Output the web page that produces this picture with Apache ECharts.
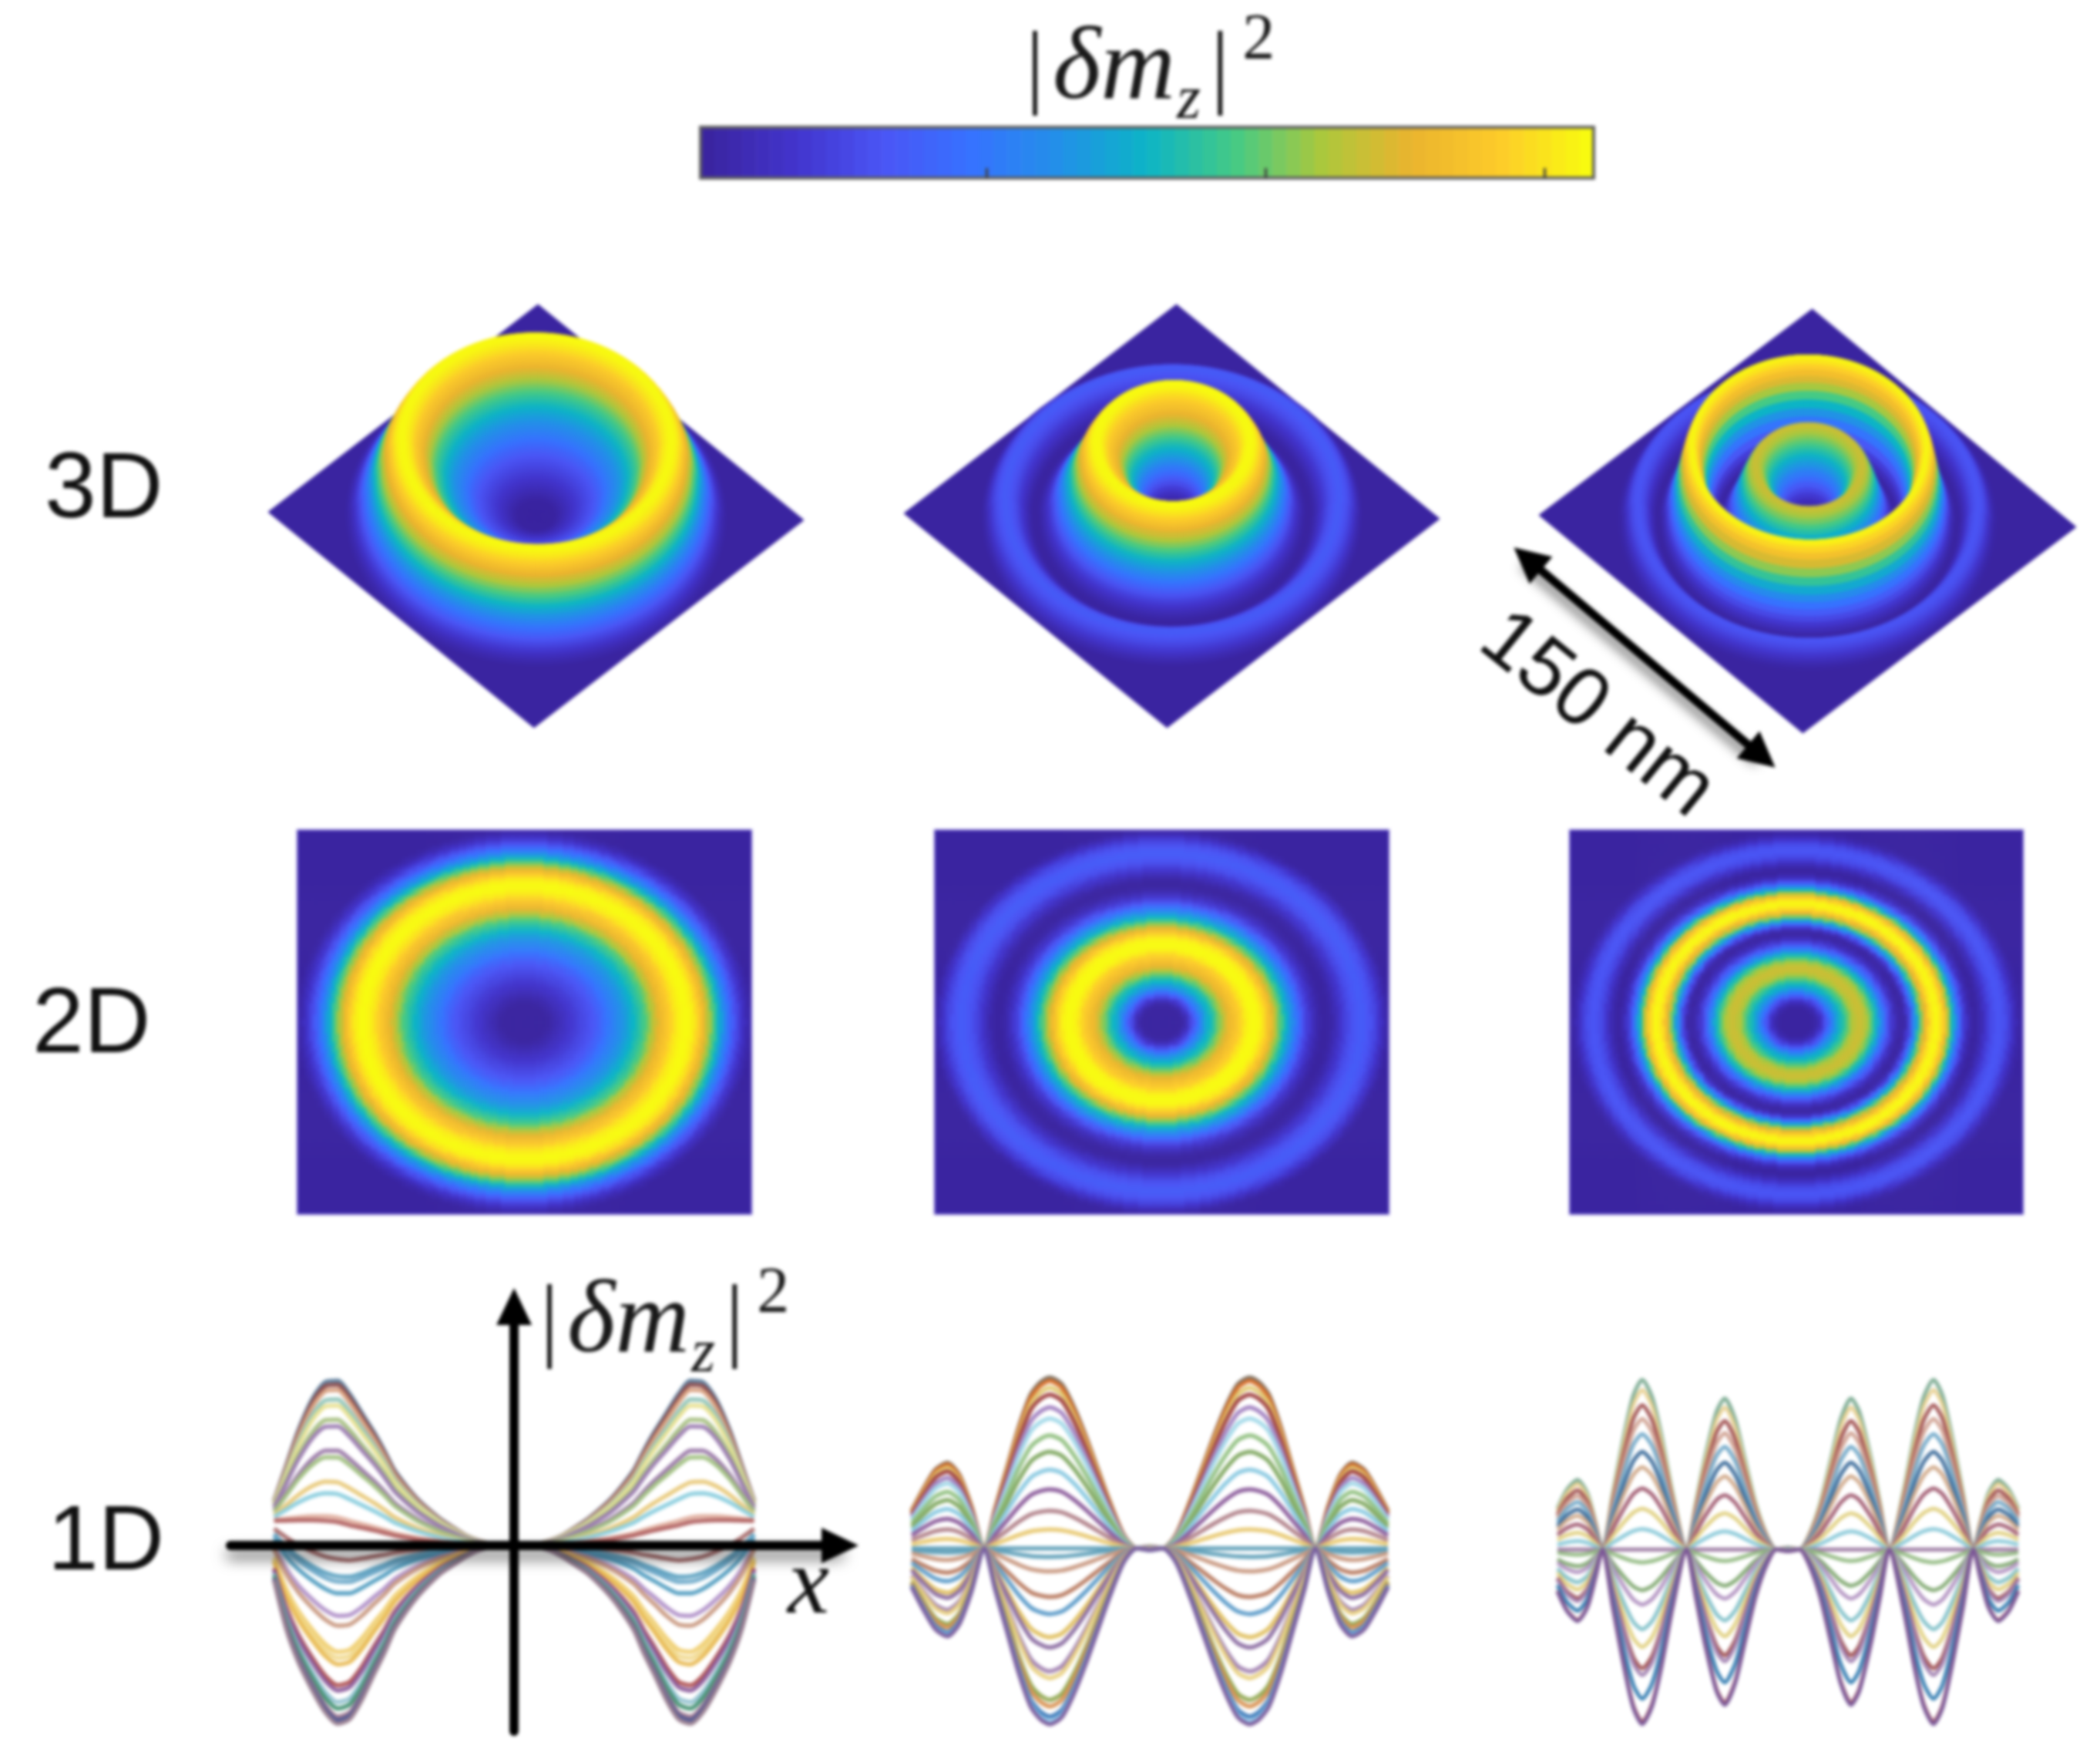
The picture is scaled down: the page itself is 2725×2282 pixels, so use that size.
<!DOCTYPE html>
<html><head><meta charset="utf-8">
<style>html,body{margin:0;padding:0;background:#fff}#main{width:2725px;height:2282px;filter:blur(2px)}</style>
<script src="https://cdn.jsdelivr.net/npm/echarts@6/dist/echarts.min.js"></script>
</head><body><div id="main"></div>
<script>
// ---------- colour scale ----------
const colormap=['#3a24a0','#4234cc','#4a55f5','#3672ff','#2290e8','#0cb4c6','#45ca85','#acc83c','#eab42e','#fdcb2a','#f8fa10'];
const colorbarValues=[0,.016,.032,.048,.063,.079,.095,.111,.127,.143,.159,.175,.19,.206,.222,.238,.254,.27,.286,.302,.317,.333,.349,.365,.381,.397,.413,.429,.444,.46,.476,.492,.508,.524,.54,.556,.571,.587,.603,.619,.635,.651,.667,.683,.698,.714,.73,.746,.762,.778,.794,.81,.825,.841,.857,.873,.889,.905,.921,.937,.952,.968,.984,1];
const colorbarTickIndex=[20,40,60];
// ---------- radial profiles, one value per 0.01 of normalised radius ----------
const radialStep=.01;
const profileA=[0,0,0,0,0,0,0,0,0,0,.005,.01,.02,.03,.04,.05,.06,.07,.08,.09,.1,.11,.12,.13,.14,.15,.16,.17,.18,.19,.2,.215,.23,.245,.26,.28,.3,.315,.33,.345,.36,.375,.39,.405,.42,.44,.46,.48,.5,.52,.54,.56,.58,.605,.63,.665,.7,.73,.76,.79,.82,.84,.86,.88,.9,.925,.95,.965,.98,.99,1,1,1,.99,.98,.955,.93,.895,.86,.82,.78,.73,.68,.63,.58,.53,.48,.43,.38,.34,.3,.26,.22,.185,.15,.12,.09,.065,.04,.025,.01];
const profileB=[0,0,0,0,0,0,0,0,0,.01,.03,.06,.1,.15,.2,.25,.3,.35,.39,.43,.47,.5,.53,.56,.6,.64,.68,.72,.76,.79,.82,.84,.86,.88,.9,.92,.95,.97,.99,1,1,1,1,.99,.97,.94,.91,.87,.83,.79,.73,.68,.63,.58,.53,.49,.45,.41,.37,.33,.29,.25,.21,.17,.14,.11,.08,.06,.04,.02,.01,0,0,0,.01,.02,.04,.06,.08,.1,.12,.14,.16,.18,.19,.2,.21,.22,.22,.22,.21,.2,.19,.17,.15,.13,.1,.07,.05,.02,.01];
const profileC=[0,0,0,0,0,0,0,0,.01,.03,.05,.09,.14,.19,.25,.3,.36,.4,.45,.49,.52,.56,.6,.64,.68,.71,.73,.745,.75,.745,.73,.7,.67,.62,.57,.52,.46,.4,.34,.28,.22,.17,.12,.08,.04,.02,0,.01,.03,.09,.16,.26,.36,.45,.55,.65,.74,.81,.88,.93,.97,.99,1,.98,.95,.89,.82,.72,.62,.52,.42,.34,.26,.19,.13,.08,.04,.02,0,0,.01,.03,.05,.08,.11,.14,.16,.18,.19,.2,.2,.19,.18,.16,.13,.1,.07,.04,.02,.01,0];
// ---------- 1D line shapes (left half, mirrored) ----------
const xsA=[-1,-.95,-.9,-.84,-.785,-.735,-.685,-.635,-.585,-.54,-.5,-.45,-.4,-.35,-.3,-.25,-.2,-.15,-.1,-.05,0];
const shapeAUp=[.27,.48,.69,.886,.987,.994,.914,.8,.686,.57,.457,.36,.276,.21,.152,.105,.06,.03,.01,.002,0];
const shapeADown=[.21,.5,.7,.876,1.01,1.076,1.048,.933,.78,.648,.514,.4,.305,.228,.162,.114,.067,.03,.01,.002,0];
const shapeAEdge=[.13,.1,.07,.04,.02,.01,0,0,0,0,0,0,0,0,0,0,0,0,0,0,0];
const ampsA=[1,.975,.943,.886,.848,.762,.72,.571,.53,.377,.305,.162,.133,-.085,-.18,-.21,-.275,-.4,-.455,-.6,-.635,-.67,-.785,-.815,-.88,-.915,-.96,-.98,-1];
const colorsA=['#5d7d9c','#8a4a4a','#d8a080','#8fc4b8','#e8e090','#a5bf80','#9a7ab0','#9a78a8','#a0c080','#e8c878','#88ccdd','#e0b0a0','#b06060','#a86a6a','#5aa0c0','#6aa8c8','#4f9cc0','#b090c8','#c89880','#f0cf70','#f0d88a','#e8b850','#b05050','#8a5a9a','#90c0d0','#3f8f70','#a07a90','#46508f','#9a8090'];
const xsB=[-1,-.95,-.9,-.85,-.8,-.75,-.695,-.65,-.6,-.55,-.5,-.46,-.42,-.37,-.32,-.27,-.22,-.17,-.11,-.055,0];
const shapeB=[.22,.35,.46,.5,.43,.25,0,.23,.47,.71,.9,.97,1,.96,.83,.66,.47,.28,.08,0,.01];
const ampsB=[1,.98,.94,.9,.825,.76,.66,.565,.46,.345,.22,.11,0,-.05,-.135,-.285,-.385,-.52,-.58,-.72,-.76,-.887,-.925,-.985,-1.015,-1.03];
const colorsB=['#7a6a5a','#d8702a','#e0c870','#a04040','#a080c0','#a0d8e8','#90c080','#80a860','#88c8e0','#8a5a9a','#b08088','#e8c870','#5f9fb8','#5f9fb8','#c89880','#b87a60','#5a9ac8','#e0c060','#8a6aa0','#a080b0','#e8d080','#90a850','#d89050','#3a78b8','#90d0f0','#7a5a9a'];
const xsC=[-1,-.96,-.913,-.87,-.835,-.805,-.76,-.71,-.67,-.632,-.59,-.55,-.5,-.44,-.4,-.36,-.31,-.274,-.23,-.19,-.14,-.09,-.05,0];
const shapeC=[.24,.35,.41,.33,.16,0,.33,.68,.91,1,.9,.68,.33,0,.27,.54,.81,.89,.77,.55,.27,.08,0,.01];
const ampsC=[1,.94,.85,.77,.68,.575,.485,.36,.24,.12,0,-.076,-.24,-.325,-.47,-.575,-.7,-.74,-.88,-1.015,-1.03];
const colorsC=['#7aaa90','#e8d090','#a05050','#d0a090','#70a8c8','#3a6a9a','#d0a888','#a05a70','#e0d080','#88c8d8','#9a78a0','#90b880','#80a870','#b090c0','#80c0c8','#e0d080','#a05050','#a080b0','#2f7ab0','#a05060','#7a5a9a'];
// ---------- annotation ----------
const scaleArrow=[[1982,725],[2286,981]];
const rowLabels=['3D','2D','1D'];
// ---------- layout ----------
const colorbarBox={left:909,top:165,width:1159,height:66};
const surfaceBoxes=[{left:348,top:395,width:695,height:549},{left:1173,top:395,width:695,height:549},{left:1997,top:401,width:697,height:550}];
const surfaceHeights=[.35,.34,.345];
const surfaceTilt=[[.0075,-.019],[.0175,-.0127],[.0175,-.028]];
const mapBoxes=[{left:386,top:1077,width:589,height:498},{left:1213,top:1077,width:589,height:498},{left:2037,top:1077,width:588,height:498}];
const HEAT_COLS=118,HEAT_ROWS=100,THETA_SEGS=96;

const profiles=[profileA,profileB,profileC];
const hide={show:false};
const grid=[],xAxis=[],yAxis=[],series=[];
function addGrid(box,xa,ya){const i=grid.length;grid.push(Object.assign({containLabel:false},box));
  xAxis.push(Object.assign({gridIndex:i,axisLine:hide,axisTick:hide,axisLabel:hide,splitLine:hide},xa));
  yAxis.push(Object.assign({gridIndex:i,axisLine:hide,axisTick:hide,axisLabel:hide,splitLine:hide},ya));return i;}
const seq=n=>Array.from({length:n},(_,i)=>i);

// colour bar
{const g=addGrid(Object.assign({show:true,z:5,backgroundColor:'transparent',borderColor:'#5f5f5f',borderWidth:4},colorbarBox),
  {type:'category',data:seq(colorbarValues.length),z:6,axisTick:{show:true,inside:true,alignWithLabel:true,length:13,interval:i=>colorbarTickIndex.includes(i),lineStyle:{color:'#3d3d3d',width:3}}},
  {type:'category',data:[0]});
 series.push({type:'heatmap',name:'colorbar',xAxisIndex:g,yAxisIndex:g,progressive:0,silent:true,data:colorbarValues.map((v,i)=>[i,0,v])});}
const heatIdx=[0];

// 3D surfaces
const customIdx=[];
profiles.forEach((p,k)=>{
  const g=addGrid(surfaceBoxes[k],{type:'value',min:-1,max:1},{type:'value',min:-1,max:1});
  const h=surfaceHeights[k],q=[],s=surfaceTilt[k][0],t=surfaceTilt[k][1];
  const T=(X,Y)=>[X+s*Y,Y+t*X];
  for(let i=0;i<p.length-1;i++){const r0=i*radialStep,r1=(i+1)*radialStep;
    for(let j=0;j<THETA_SEGS;j++){const a0=j/THETA_SEGS*2*Math.PI,a1=(j+1)/THETA_SEGS*2*Math.PI,c=Math.SQRT1_2;
      const P=(r,a,v)=>T(c*r*Math.cos(a),c*r*Math.sin(a)+h*v);
      q.push({d:c*(r0+r1)/2*Math.sin((a0+a1)/2),
        v:[...P(r0,a0,p[i]),...P(r1,a0,p[i+1]),...P(r1,a1,p[i+1]),...P(r0,a1,p[i]),(p[i]+p[i+1])/2]});}}
  q.sort((a,b)=>b.d-a.d);
  const data=[[...T(-1,0),...T(0,1),...T(1,0),...T(0,-1),0]].concat(q.map(o=>o.v));
  customIdx.push(series.length);
  series.push({type:'custom',name:'surface'+k,xAxisIndex:g,yAxisIndex:g,clip:false,silent:true,progressive:0,encode:{x:0,y:1},data,
    renderItem:(params,api)=>{const pts=[0,2,4,6].map(d=>api.coord([api.value(d),api.value(d+1)]));const c=api.visual('color');
      return {type:'polygon',silent:true,shape:{points:pts},style:{fill:c,stroke:c,lineWidth:1}};}});
});

// 2D maps
profiles.forEach((p,k)=>{
  const g=addGrid(Object.assign({show:true,z:5,backgroundColor:'transparent',borderColor:'rgba(90,70,205,.45)',borderWidth:3},mapBoxes[k]),
    {type:'category',data:seq(HEAT_COLS)},{type:'category',data:seq(HEAT_ROWS)});
  const data=[];
  for(let j=0;j<HEAT_ROWS;j++)for(let i=0;i<HEAT_COLS;i++){
    const r=Math.hypot((i+.5)/HEAT_COLS*2-1,(j+.5)/HEAT_ROWS*2-1);
    const v=p[Math.round(r/radialStep)];data.push([i,j,v===undefined?0:v]);}
  heatIdx.push(series.length);
  series.push({type:'heatmap',name:'map'+k,xAxisIndex:g,yAxisIndex:g,progressive:0,silent:true,data});
});

// 1D lines
const mirror=(a,s)=>a.concat(a.slice(0,-1).reverse().map(v=>s*v));
function addLines(g,xs,ys,colors,width){ys.forEach((y,i)=>series.push({type:'line',name:'mode'+g+'-'+i,xAxisIndex:g,yAxisIndex:g,symbol:'none',smooth:.25,silent:true,
  lineStyle:{color:colors[i],width:width,opacity:.95},data:xs.map((x,n)=>[x,y[n]])}));}
{const g=addGrid({left:299,top:1695,width:791,height:551},
  {type:'value',min:-1.182,max:1.358,z:10,axisLine:{show:true,onZero:true,symbol:['none','triangle'],symbolSize:[46,48],lineStyle:{color:'#000',width:12,shadowColor:'rgba(0,0,0,.55)',shadowBlur:18,shadowOffsetY:12}}},
  {type:'value',min:-1.121,max:1.442,z:10,axisLine:{show:true,onZero:true,symbol:['none','triangle'],symbolSize:[46,48],lineStyle:{color:'#000',width:12}}});
 const xf=mirror(xsA,-1),up=mirror(shapeAUp,1),dn=mirror(shapeADown,1),ed=mirror(shapeAEdge,1);
 addLines(g,xf,ampsA.map(a=>xf.map((_,n)=>a>0?a*up[n]+(1-a)*ed[n]:a*dn[n]+(1+a)*ed[n])),colorsA,5.5);}
{const g=addGrid({left:1183,top:1787,width:618,height:450},{type:'value',min:-1,max:1},{type:'value',min:-1.03,max:1});
 const xf=mirror(xsB,-1),s=mirror(shapeB,1);addLines(g,xf,ampsB.map(a=>s.map(v=>a*v)),colorsB,5.5);}
{const g=addGrid({left:2021,top:1790,width:598,height:447},{type:'value',min:-1,max:1},{type:'value',min:-1.03,max:1});
 const xf=mirror(xsC,-1),s=mirror(shapeC,1);addLines(g,xf,ampsC.map(a=>s.map(v=>a*v)),colorsC,5);}

// scale arrow overlay
{const g=addGrid({left:0,top:0,width:2725,height:2282},{type:'value',min:0,max:2725},{type:'value',min:0,max:2282,inverse:true});
 series.push({type:'line',name:'scale',xAxisIndex:g,yAxisIndex:g,data:[],silent:true,
  markLine:{silent:true,animation:false,symbol:['triangle','triangle'],symbolSize:46,label:{show:false},
   lineStyle:{color:'#000',type:'solid',width:11,shadowColor:'rgba(0,0,0,.5)',shadowBlur:14,shadowOffsetX:-6,shadowOffsetY:8},
   data:[[{coord:scaleArrow[0]},{coord:scaleArrow[1]}]]}});}

// text
const mathRich={b:{font:'120px "Liberation Serif"',lineHeight:160,fill:'#1a1a1a',padding:[0,11,0,9]},
  i:{font:'italic 134px "Liberation Serif"',lineHeight:160,fill:'#1a1a1a'},
  s:{font:'italic 80px "Liberation Serif"',lineHeight:80,verticalAlign:'bottom',fill:'#1a1a1a',padding:[0,4,0,2]},
  p:{font:'84px "Liberation Serif"',lineHeight:136,verticalAlign:'top',fill:'#1a1a1a',padding:[0,0,0,6]}};
const mathText='{b||}{i|δm}{s|z}{b||}{p|2}';
const sans='"Liberation Sans"';
const textEl=(x,y,text,font,extra)=>({type:'text',silent:true,z:20,x,y,rotation:(extra&&extra.rotation)||0,
  style:Object.assign({text,font,fill:'#111',align:'left',verticalAlign:'middle'},extra&&extra.style)});
const graphic=[
  textEl(1322,92,mathText,'120px "Liberation Serif"',{style:{rich:mathRich}}),
  textEl(692,1718,mathText,'120px "Liberation Serif"',{style:{rich:mathRich}}),
  textEl(58,638,rowLabels[0],'120px '+sans),
  textEl(42,1332,rowLabels[1],'120px '+sans),
  textEl(62,2003,rowLabels[2],'118px '+sans),
  textEl(1022,2060,'x','italic 122px "Liberation Serif"'),
  textEl(2072,928,'150 nm','107px '+sans,{rotation:-39*Math.PI/180,style:{align:'center'}})
];

const chart=echarts.init(document.getElementById('main'),null,{renderer:'canvas'});
chart.setOption({animation:false,backgroundColor:'#fff',grid,xAxis,yAxis,series,graphic,
  visualMap:[
   {type:'continuous',show:false,min:0,max:1,dimension:2,seriesIndex:heatIdx,inRange:{color:colormap}},
   {type:'continuous',show:false,min:0,max:1,dimension:8,seriesIndex:customIdx,inRange:{color:colormap}}
  ]});
</script></body></html>
